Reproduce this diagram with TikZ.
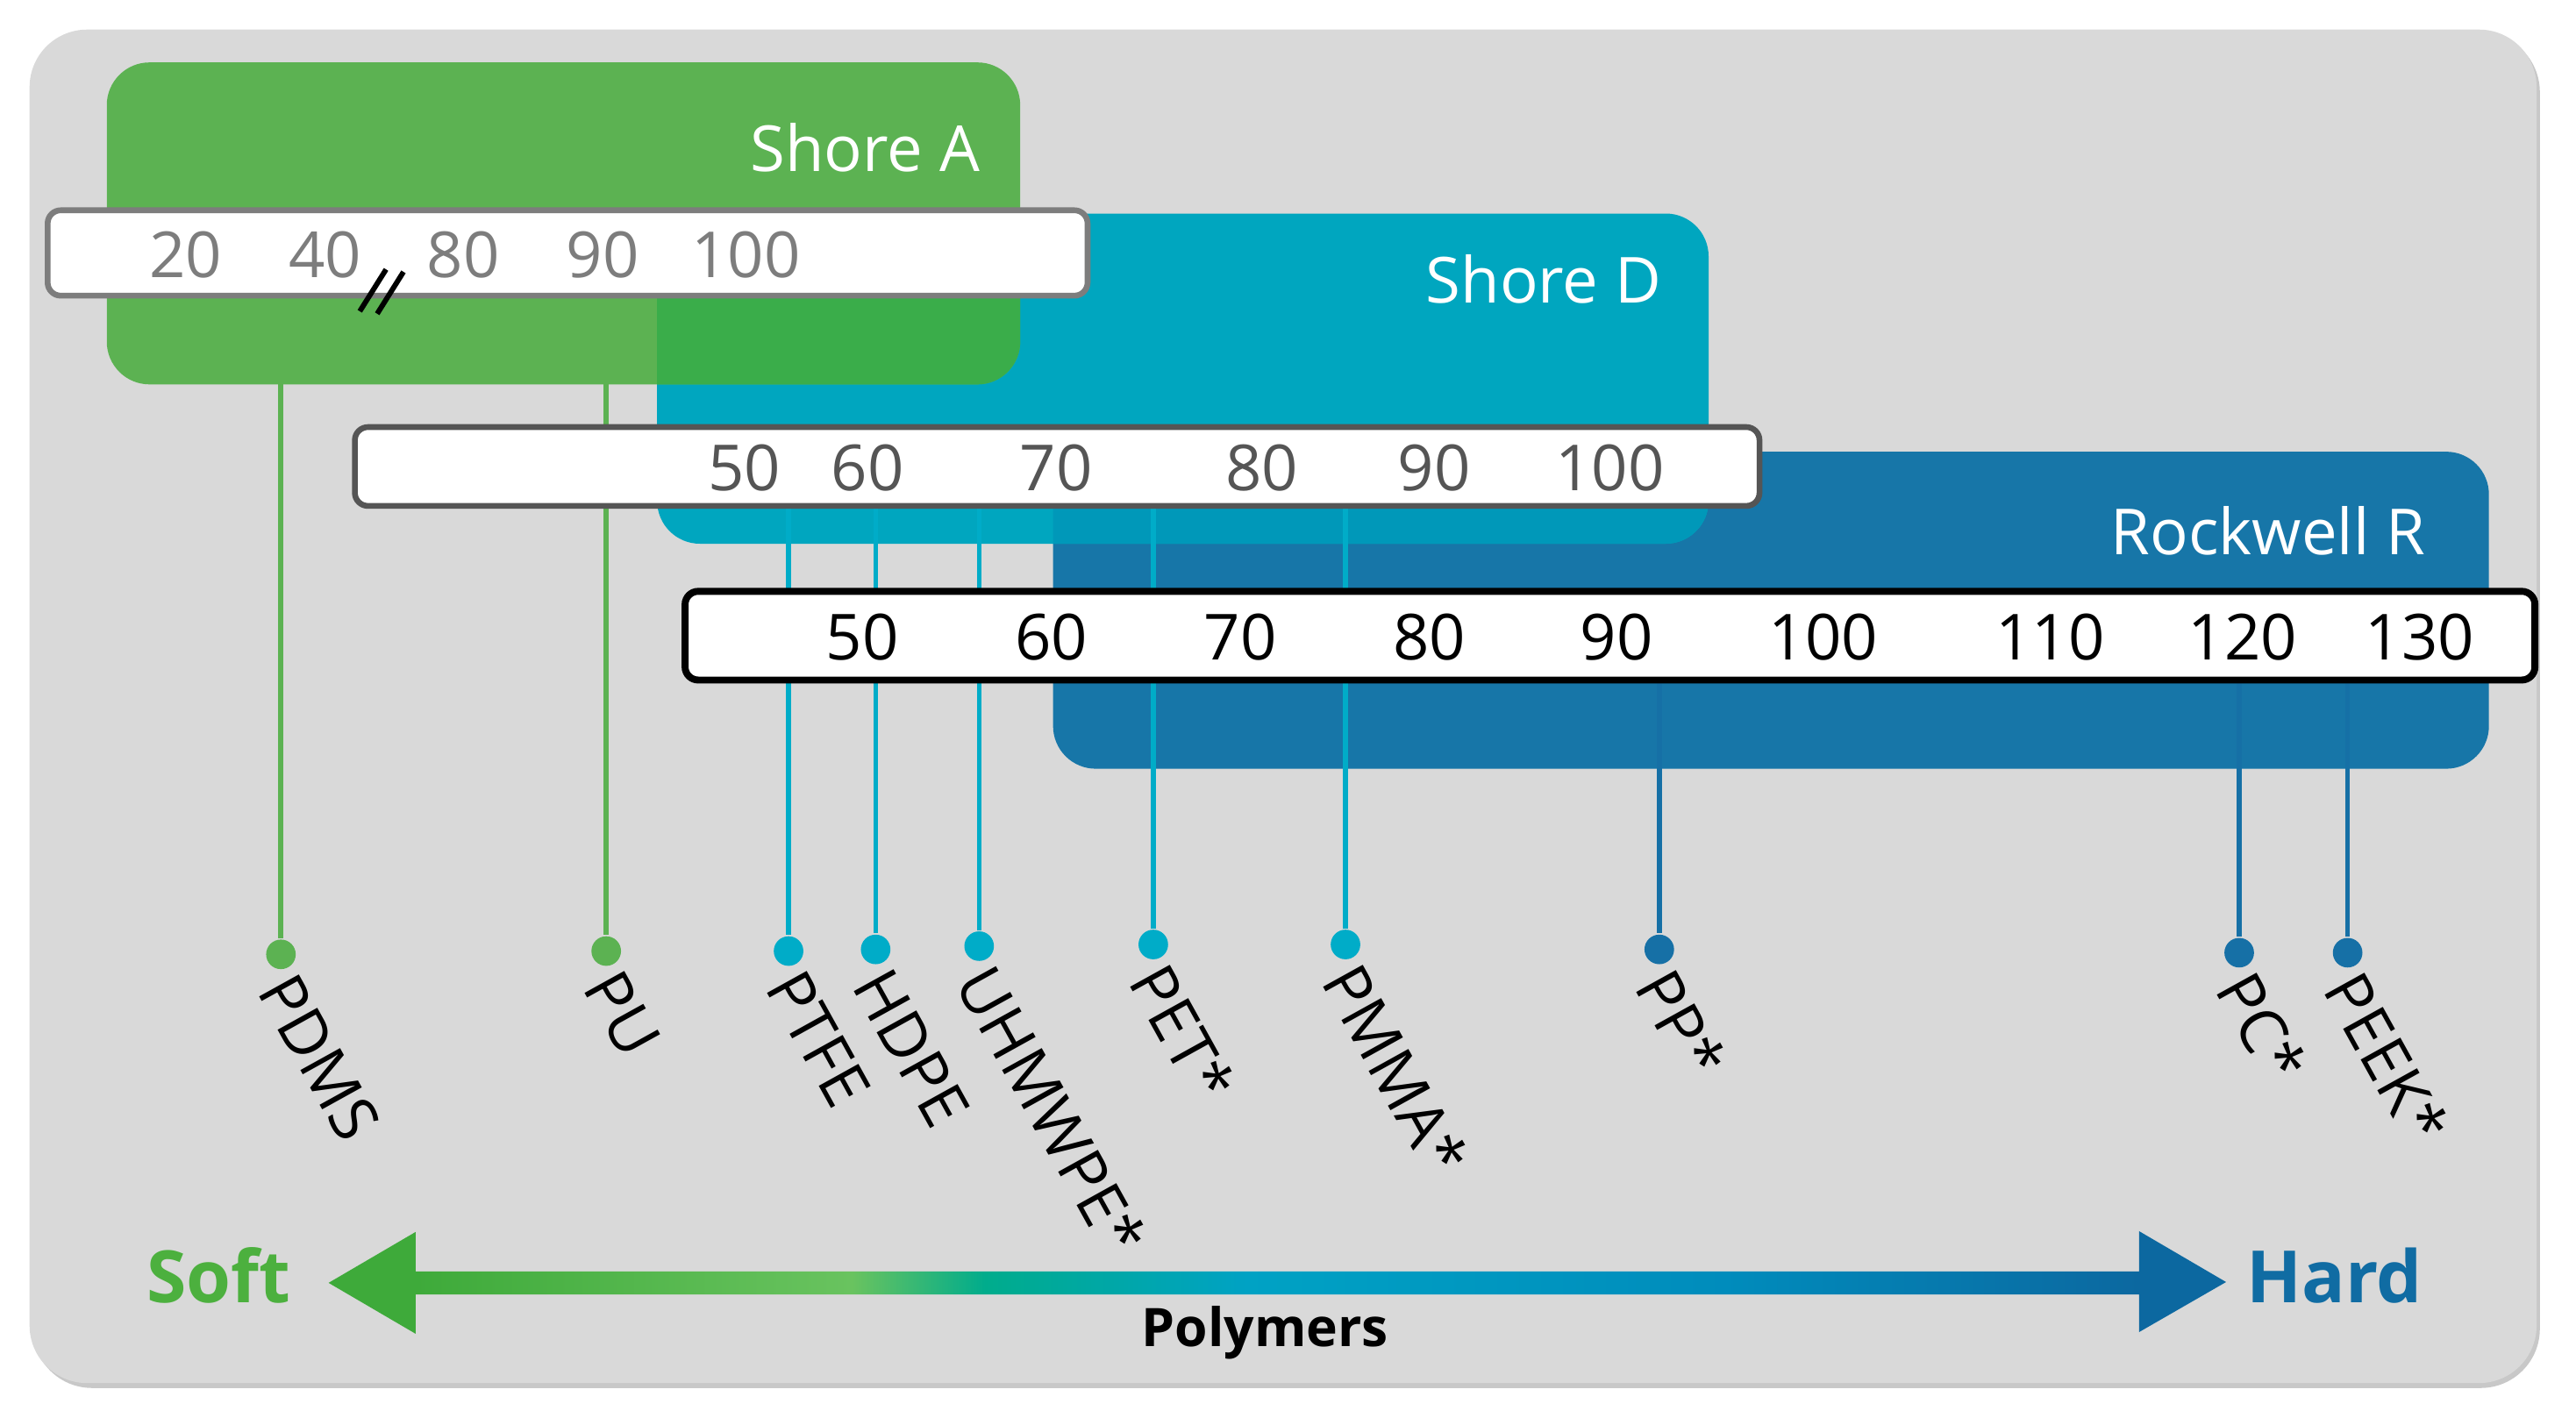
\documentclass[tikz,border=0pt]{standalone}
\usepackage{fontspec}
\setmainfont{Open Sans}
\usetikzlibrary{calc}

\definecolor{bggray}{RGB}{217,217,217}
\definecolor{shadegray}{RGB}{200,200,200}
\definecolor{shoreA}{RGB}{92,178,82}
\definecolor{shoreAD}{RGB}{58,173,74}
\definecolor{shoreD}{RGB}{0,166,191}
\definecolor{shoreDR}{RGB}{0,152,185}
\definecolor{rockR}{RGB}{23,118,168}
\definecolor{lineD}{RGB}{0,172,200}
\definecolor{lineR}{RGB}{22,112,166}
\definecolor{softgreen}{RGB}{76,176,62}
\definecolor{hardblue}{RGB}{16,108,163}
\definecolor{numA}{RGB}{125,125,125}
\definecolor{numD}{RGB}{85,85,85}
\definecolor{arrG}{RGB}{62,170,58}
\definecolor{arrL}{RGB}{105,195,95}
\definecolor{arrT}{RGB}{0,172,140}
\definecolor{arrC}{RGB}{0,162,196}
\definecolor{arrCB}{RGB}{0,140,188}
\definecolor{arrB}{RGB}{12,104,160}

\pgfdeclarehorizontalshading{hardness}{100bp}{color(0bp)=(arrG); color(25bp)=(arrG); color(27.3bp)=(arrG);
  color(38.8bp)=(arrL); color(42.3bp)=(arrT); color(49.2bp)=(arrC); color(61.8bp)=(arrCB);
  color(72.7bp)=(arrB); color(75bp)=(arrB); color(100bp)=(arrB)}

\begin{document}
\begin{tikzpicture}[x=0.01cm, y=-0.01cm,
    scalebox/.style={rounded corners=0.26cm},
    scalebar/.style={fill=white, rounded corners=0.08cm, line width=1pt},
    num/.style={font=\fontsize{11}{13}\selectfont, inner sep=0pt},
    boxtitle/.style={font=\fontsize{11}{13}\selectfont, text=white, anchor=east, inner sep=0pt},
    matdot/.style={circle, inner sep=0pt, minimum size=0.18cm},
    dropline/.style={line width=0.85pt},
    lbl/.style={rotate=-61, anchor=west, inner sep=0pt, font=\fontsize{11}{13}\selectfont}]
    \useasboundingbox (0,0) rectangle (1568,863);

    % background
    \fill[shadegray, rounded corners=0.36cm] (20,20) rectangle (1546,845);
    \fill[bggray, rounded corners=0.35cm] (18,18) rectangle (1544,842);

    % hardness scales
    \fill[rockR, scalebox] (641,275) rectangle (1515,468);
    \fill[shoreD, scalebox] (400,130) rectangle (1040,331);
    \begin{scope}
        \clip[scalebox] (641,275) rectangle (1515,468);
        \fill[shoreDR, scalebox] (400,130) rectangle (1040,331);
    \end{scope}
    \fill[shoreA, scalebox] (65,38) rectangle (621,234);
    \begin{scope}
        \clip[scalebox] (400,130) rectangle (1040,331);
        \fill[shoreAD, scalebox] (65,38) rectangle (621,234);
    \end{scope}

    % polymers
    \foreach \x/\y/\nm/\txt in {171/581/pdms/PDMS, 369/579/pu/PU}{
        \coordinate (\nm-top) at (\x,155);
        \node[matdot, fill=shoreA] (\nm) at (\x,\y) {};
        \draw[dropline, shoreA] (\nm-top) -- (\nm);
        \node[lbl] (\nm-lbl) at ([shift={(-3,15)}]\nm.center) {\txt};
    }
    \foreach \x/\y/\nm/\txt in {480/579/ptfe/PTFE, 533/578/hdpe/HDPE, 596/576/uhmwpe/UHMWPE*,
                                702/575/pet/PET*, 819/575/pmma/PMMA*}{
        \coordinate (\nm-top) at (\x,285);
        \node[matdot, fill=lineD] (\nm) at (\x,\y) {};
        \draw[dropline, lineD] (\nm-top) -- (\nm);
        \node[lbl] (\nm-lbl) at ([shift={(-3,15)}]\nm.center) {\txt};
    }
    \foreach \x/\y/\nm/\txt in {1010/578/pp/PP*, 1363/580/pc/PC*, 1429/580/peek/PEEK*}{
        \coordinate (\nm-top) at (\x,388);
        \node[matdot, fill=lineR] (\nm) at (\x,\y) {};
        \draw[dropline, lineR] (\nm-top) -- (\nm);
        \node[lbl] (\nm-lbl) at ([shift={(-3,15)}]\nm.center) {\txt};
    }

    % scale bars
    \draw[scalebar, draw=numA] (29,128) rectangle (662,180);
    \foreach \v/\x in {20/113, 40/198, 80/282, 90/367, 100/454}
        \node[num, text=numA] (a\v) at (\x,155) {\v};
    \draw[line width=0.9pt] (219,189.5) -- (235,164);
    \draw[line width=0.9pt] (229.6,191) -- (245.6,165.5);

    \draw[scalebar, draw=numD] (216,260) rectangle (1071,308);
    \foreach \v/\x in {50/453, 60/528, 70/643, 80/768, 90/873, 100/980}
        \node[num, text=numD] (d\v) at (\x,285) {\v};

    \draw[scalebar, draw=black, line width=1.2pt] (417,360) rectangle (1543,414);
    \foreach \v/\x in {50/525, 60/640, 70/755, 80/870, 90/984, 100/1110, 110/1248, 120/1365, 130/1473}
        \node[num] (r\v) at (\x,388) {\v};

    \node[boxtitle] (titleA) at (597,90) {Shore A};
    \node[boxtitle] (titleD) at (1012,170) {Shore D};
    \node[boxtitle] (titleR) at (1477,323) {Rockwell R};

    % soft -> hard
    \shade[shading=hardness] (200,781) -- (253,750) -- (253,774) -- (1302,774) -- (1302,749.5)
        -- (1355,780.5) -- (1302,811) -- (1302,788) -- (253,788) -- (253,812) -- cycle;
    \node[font=\fontsize{12.5}{14}\selectfont\bfseries, text=softgreen, anchor=base] (soft) at (133,793) {Soft};
    \node[font=\fontsize{12.5}{14}\selectfont\bfseries, text=hardblue, anchor=base] (hard) at (1421,793) {Hard};
    \node[font=\fontsize{9.2}{11}\selectfont\bfseries, anchor=base] (poly) at (770,820) {Polymers};
\end{tikzpicture}
\end{document}
